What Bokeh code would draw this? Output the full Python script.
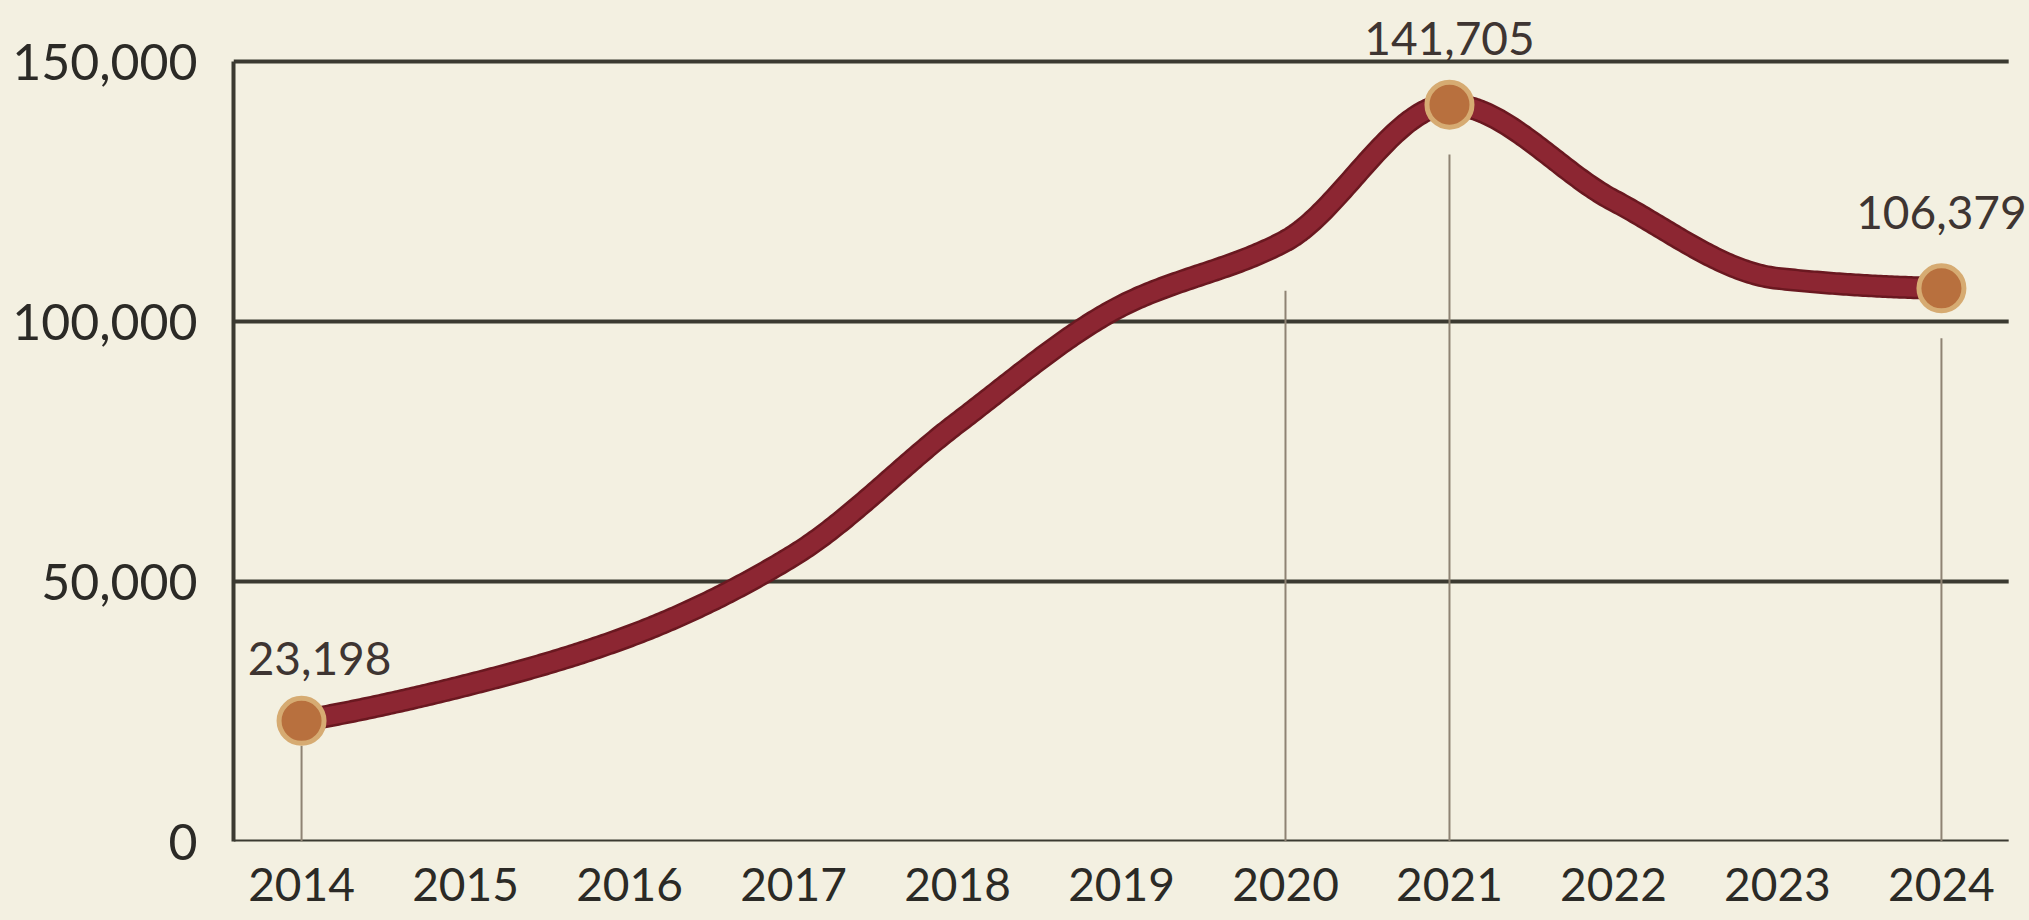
import numpy as np
from bokeh.plotting import figure
from bokeh.models import FixedTicker, NumeralTickFormatter, Label, Range1d, ColumnDataSource
from bokeh.embed import file_html
from bokeh.resources import INLINE

# ---- data ----
years = [2014, 2015, 2016, 2017, 2018, 2019, 2020, 2021, 2022, 2023, 2024]
visitors = [23198, 30000, 39500, 55000, 80500, 103000, 115500, 141705, 123300, 108300, 106379]
marked_years = [2014, 2021, 2024]
marked_values = [23198, 141705, 106379]
marked_labels = ["23,198", "141,705", "106,379"]
drop_years = [2014, 2020, 2021, 2024]
y_ticks = [0, 50000, 100000, 150000]

# ---- axis limits ----
X_START, X_END = 2013.585, 2024.537
GRID_END = 2024.41
Y_START, Y_END = 0, 161731

# ---- style ----
BG = "#F3F0E1"
GRID = "#3B3A31"
LINE = "#8C2632"
LINE_EDGE = "#6A1820"
MARK_FILL = "#B8703E"
MARK_EDGE = "#D6AB72"
DROP = "#8E8373"
TEXT = "#2B2A26"
VALTEXT = "#3E3532"
FONT = "Lato"


def pchip(x, y, n=60):
    x = np.asarray(x, float)
    y = np.asarray(y, float)
    h = np.diff(x)
    d = np.diff(y) / h
    m = np.zeros_like(y)
    for k in range(1, len(y) - 1):
        if d[k - 1] * d[k] > 0:
            w1 = 2 * h[k] + h[k - 1]
            w2 = h[k] + 2 * h[k - 1]
            m[k] = (w1 + w2) / (w1 / d[k - 1] + w2 / d[k])
    m[0] = d[0] * 0.8
    m[-1] = d[-1] * 0.3
    xs, ys = [], []
    for k in range(len(h)):
        t = np.linspace(0, 1, n, endpoint=(k == len(h) - 1))
        h00 = 2 * t**3 - 3 * t**2 + 1
        h10 = t**3 - 2 * t**2 + t
        h01 = -2 * t**3 + 3 * t**2
        h11 = t**3 - t**2
        xs.append(x[k] + t * h[k])
        ys.append(y[k] * h00 + h[k] * m[k] * h10 + y[k + 1] * h01 + h[k] * m[k + 1] * h11)
    return np.concatenate(xs), np.concatenate(ys)


p = figure(
    width=2029, height=920,
    x_range=Range1d(X_START, X_END),
    y_range=Range1d(Y_START, Y_END),
    output_backend="svg", toolbar_location=None,
    min_border_left=233, min_border_right=0,
    min_border_top=0, min_border_bottom=79,
)
p.background_fill_color = BG
p.border_fill_color = BG
p.outline_line_color = None

# axes
p.yaxis.ticker = FixedTicker(ticks=y_ticks)
p.yaxis.formatter = NumeralTickFormatter(format="0,0")
p.yaxis.bounds = (0, 150000)
p.yaxis.axis_line_color = GRID
p.yaxis.axis_line_width = 4
p.yaxis.major_tick_line_color = None
p.yaxis.minor_tick_line_color = None
p.yaxis.major_label_standoff = 30
p.yaxis.major_label_text_font = FONT
p.yaxis.major_label_text_font_size = "50px"
p.yaxis.major_label_text_color = TEXT

p.xaxis.ticker = FixedTicker(ticks=years)
p.xaxis.axis_line_color = None
p.xaxis.major_tick_line_color = None
p.xaxis.minor_tick_line_color = None
p.xaxis.major_label_standoff = 20
p.xaxis.major_label_text_font = FONT
p.xaxis.major_label_text_font_size = "46px"
p.xaxis.major_label_text_color = TEXT

p.xgrid.grid_line_color = None
p.ygrid.grid_line_color = None

# horizontal grid lines (stop short of the right edge, as in the reference)
p.segment(x0=[X_START] * len(y_ticks), y0=y_ticks, x1=[GRID_END] * len(y_ticks), y1=y_ticks,
          line_color=GRID, line_width=4)

# drop lines
val_by_year = dict(zip(years, visitors))
gap = {2014: 4800}
drop_top = [val_by_year[yr] - gap.get(yr, 9600) for yr in drop_years]
p.segment(x0=drop_years, y0=drop_top, x1=drop_years, y1=[0] * len(drop_years),
          line_color=DROP, line_width=2)

# smooth curve
cx, cy = pchip(years, visitors)
p.line(cx, cy, line_color=LINE_EDGE, line_width=23, line_cap="round", line_join="round")
p.line(cx, cy, line_color=LINE, line_width=18, line_cap="round", line_join="round")

# markers
src = ColumnDataSource(dict(x=marked_years, y=marked_values, label=marked_labels))
p.scatter("x", "y", source=src, size=45, fill_color=MARK_FILL,
          line_color=MARK_EDGE, line_width=5)

# value labels
x_offsets = [18, 0, 0]
y_offsets = [62, 66, 76]
for xv, yv, lab, xo, yo in zip(marked_years, marked_values, marked_labels, x_offsets, y_offsets):
    p.add_layout(Label(x=xv, y=yv, text=lab, x_offset=xo, y_offset=yo,
                       text_align="center", text_baseline="alphabetic",
                       text_font=FONT, text_font_size="46px", text_color=VALTEXT))

html = file_html(p, INLINE)
html = html.replace("<head>", "<head><style>html,body{background:%s;}</style>" % BG, 1)
open("out.html", "w").write(html)
